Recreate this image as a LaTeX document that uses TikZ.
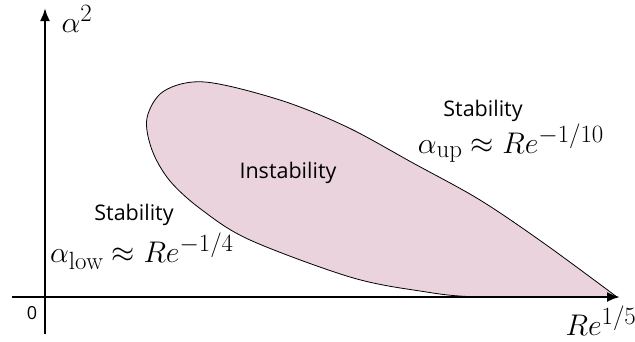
\documentclass[tikz,border=0pt]{standalone}
\usepackage{amsmath,amssymb}
\usepackage{graphicx}
\usepackage{fontspec}
\setsansfont{Open Sans}
\usetikzlibrary{arrows.meta}
\definecolor{blobpink}{RGB}{235,211,222}
\newcommand{\bigmath}[1]{\scalebox{1.2}{$#1$}}
\tikzset{
    axisline/.style = {line width = 2.4pt, -{Latex[length=13pt, width=10pt]}},
    wordlabel/.style = {font = \sffamily\fontsize{21.5}{26}\selectfont, inner sep = 0pt},
    mathlabel/.style = {font = \fontsize{24.88}{30}\selectfont, inner sep = 0pt},
}

\begin{document}
\begin{tikzpicture}[x = 1pt, y = -1pt]
    \useasboundingbox (0,0) rectangle (635,341);
    % region of instability
    \coordinate(T)at(617,297);
    \path[draw, fill = blobpink, line width = 0.8pt] plot[smooth, tension = 0.55] coordinates
        {(T) (545,244) (480,200) (413,163) (347,127) (280,100) (205,82) (164,91) (147,118)
         (152,150) (170,181) (202,210) (250,240) (350,277) (420,291) (480,297) (T)} -- cycle;
    % axes
    \coordinate(O)at(45,297);
    \coordinate(XL)at(12,297);
    \coordinate(XR)at(620,297);
    \coordinate(YB)at(45,334);
    \coordinate(YT)at(45,8);
    \path[draw, axisline](XL)to(XR);
    \path[draw, axisline](YB)to(YT);
    % axis labels
    \node[mathlabel](alphasq)at(77,19){\bigmath{\alpha^2}};
    \node[mathlabel](reaxis)at(601,321){\bigmath{Re^{1/5}}};
    \node[wordlabel, font = \sffamily\fontsize{18}{22}\selectfont](zero)at(32,313){0};
    % lower branch
    \node[wordlabel](stablow)at(134,215){Stability};
    \node[mathlabel](alow)at(142,251){\bigmath{\alpha_{\mathrm{low}}\approx Re^{-1/4}}};
    % upper branch
    \node[wordlabel](stabup)at(483,111){Stability};
    \node[mathlabel](aup)at(511,143){\bigmath{\alpha_{\mathrm{up}}\approx Re^{-1/10}}};
    % inside
    \node[wordlabel](instab)at(288,173){Instability};
\end{tikzpicture}
\end{document}
